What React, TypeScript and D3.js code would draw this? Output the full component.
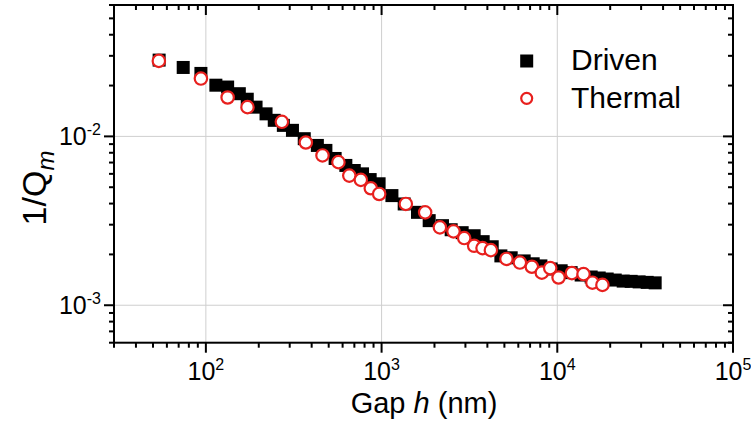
import React from "react";
import * as d3 from "d3";

const drivenGap = [54.2, 74.3, 93.7, 114, 133, 155, 172, 193, 220, 245, 276, 311, 363, 431, 482, 544, 626, 699, 779, 861, 968, 1145, 1345, 1601, 1866, 2221, 2489, 2875, 3364, 3786, 4262, 4775, 5465, 6479, 7292, 8067, 9228, 10520, 11990, 13670, 15590, 17320, 19230, 21370, 23720, 26330, 29230, 32480, 36060];
const drivenQ = [0.0283, 0.0256, 0.0236, 0.0201, 0.0196, 0.0179, 0.0166, 0.0149, 0.0136, 0.01245, 0.01162, 0.01086, 0.00969, 0.00884, 0.00826, 0.0074, 0.00673, 0.00628, 0.006, 0.00555, 0.00524, 0.00446, 0.00398, 0.00355, 0.00317, 0.00296, 0.0028, 0.00269, 0.00258, 0.00238, 0.00222, 0.00196, 0.00191, 0.00183, 0.00176, 0.00171, 0.00164, 0.0016, 0.00156, 0.00151, 0.00147, 0.00145, 0.00143, 0.00141, 0.00139, 0.001385, 0.001375, 0.001366, 0.001357];

const thermalGap = [54, 93.7, 133, 172.5, 270.7, 370.6, 461, 568, 655, 762, 868, 969, 1374, 1770, 2147, 2566, 2953, 3364, 3754, 4188, 5136, 6124, 7166, 8166, 9114, 10170, 12110, 14100, 15850, 18070];
const thermalQ = [0.028, 0.022, 0.017, 0.0149, 0.0122, 0.0092, 0.00771, 0.00704, 0.00586, 0.00553, 0.00493, 0.00456, 0.00398, 0.00355, 0.00289, 0.00274, 0.0025, 0.00225, 0.00218, 0.00212, 0.00188, 0.00179, 0.00169, 0.00156, 0.00166, 0.00146, 0.00155, 0.00153, 0.00136, 0.00132];

const xMajor = [100, 1000, 10000, 100000];
const xMajorExp = ["2", "3", "4", "5"];
const yMajor = [0.001, 0.01];
const yMajorExp = ["-3", "-2"];
const legendLabels = ["Driven", "Thermal"];

const FONT = "'Liberation Sans', Arial, sans-serif";
const RED = "#e8201e";

export default function App() {
  const W = 751, H = 426;
  const L = 114, R = 733, T = 5, B = 342.7;
  const x = d3.scaleLog().domain([30, 1e5]).range([L, R]);
  const y = d3.scaleLog().domain([6e-4, 0.06]).range([B, T]);

  const xMinor: number[] = [];
  for (let e = 1; e <= 4; e++) for (let m = 2; m <= 9; m++) {
    const v = m * Math.pow(10, e);
    if (v >= 30 && v <= 1e5) xMinor.push(v);
  }
  const yMinor: number[] = [];
  for (let e = -4; e <= -2; e++) for (let m = 2; m <= 9; m++) {
    const v = m * Math.pow(10, e);
    if (v >= 6e-4 - 1e-12 && v <= 0.06 + 1e-12) yMinor.push(v);
  }

  const sq = 13;
  const cr = 6.2;

  return (
    <svg width={W} height={H} style={{ position: "absolute", left: 0, top: 0, background: "#fff" }} fontFamily={FONT}>
      <rect x={0} y={0} width={W} height={H} fill="#fff" />
      {xMajor.slice(0, 3).map((v) => (
        <line key={"gx" + v} x1={x(v)} x2={x(v)} y1={T} y2={B} stroke="#cfcfcf" strokeWidth={1} />
      ))}
      {yMajor.map((v) => (
        <line key={"gy" + v} x1={L} x2={R} y1={y(v)} y2={y(v)} stroke="#cfcfcf" strokeWidth={1} />
      ))}
      {drivenGap.map((g, i) => (
        <rect key={"d" + i} x={x(g) - sq / 2} y={y(drivenQ[i]) - sq / 2} width={sq} height={sq} fill="#000" />
      ))}
      {thermalGap.map((g, i) => (
        <circle key={"t" + i} cx={x(g)} cy={y(thermalQ[i])} r={cr} fill="#fff" stroke={RED} strokeWidth={2.2} />
      ))}
      <rect x={L} y={T} width={R - L} height={B - T} fill="none" stroke="#000" strokeWidth={2} />
      {xMajor.map((v) => (
        <g key={"xt" + v}>
          <line x1={x(v)} x2={x(v)} y1={B} y2={B + 10} stroke="#000" strokeWidth={2} />
          <line x1={x(v)} x2={x(v)} y1={T} y2={T + 10} stroke="#000" strokeWidth={2} />
        </g>
      ))}
      {xMinor.map((v) => (
        <g key={"xm" + v}>
          <line x1={x(v)} x2={x(v)} y1={B} y2={B + 5} stroke="#000" strokeWidth={2} />
          <line x1={x(v)} x2={x(v)} y1={T} y2={T + 5} stroke="#000" strokeWidth={2} />
        </g>
      ))}
      {yMajor.map((v) => (
        <g key={"yt" + v}>
          <line x1={L - 10} x2={L} y1={y(v)} y2={y(v)} stroke="#000" strokeWidth={2} />
          <line x1={R - 10} x2={R} y1={y(v)} y2={y(v)} stroke="#000" strokeWidth={2} />
        </g>
      ))}
      {yMinor.map((v) => (
        <g key={"ym" + v}>
          <line x1={L - 5} x2={L} y1={y(v)} y2={y(v)} stroke="#000" strokeWidth={2} />
          <line x1={R - 5} x2={R} y1={y(v)} y2={y(v)} stroke="#000" strokeWidth={2} />
        </g>
      ))}
      {xMajor.map((v, i) => (
        <text key={"xl" + v} x={x(v)} y={380} textAnchor="middle" fontSize={25} fill="#000">
          <tspan>10</tspan>
          <tspan dy={-10} fontSize={16}>{xMajorExp[i]}</tspan>
        </text>
      ))}
      {yMajor.map((v, i) => (
        <text key={"yl" + v} x={101} y={y(v) + 9} textAnchor="end" fontSize={25} fill="#000">
          <tspan>10</tspan>
          <tspan dy={-10} fontSize={16}>{yMajorExp[i]}</tspan>
        </text>
      ))}
      <text x={424} y={413} textAnchor="middle" fontSize={29} fill="#000">
        Gap <tspan fontStyle="italic">h</tspan> (nm)
      </text>
      <text transform={`translate(46,${188}) rotate(-90)`} textAnchor="middle" fontSize={34} fill="#000">
        1/Q<tspan dy={8} fontSize={24} fontStyle="italic">m</tspan>
      </text>
      <rect x={526.7 - 6.5} y={61 - 6.5} width={13} height={13} fill="#000" />
      <circle cx={526.7} cy={98.3} r={5.5} fill="#fff" stroke={RED} strokeWidth={2.2} />
      <text x={571} y={70} fontSize={30} fill="#000">{legendLabels[0]}</text>
      <text x={571} y={108} fontSize={30} fill="#000">{legendLabels[1]}</text>
    </svg>
  );
}
